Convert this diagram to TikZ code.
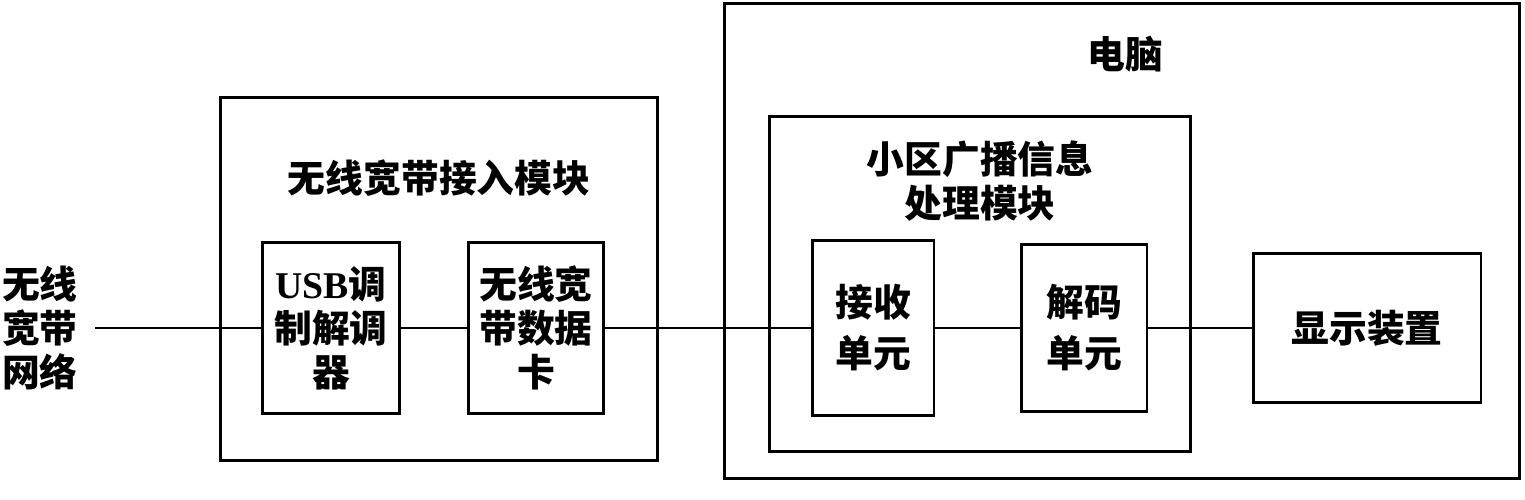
\documentclass[tikz,border=0pt]{standalone}
\usepackage{fontspec}
\setmainfont{Liberation Serif}
\newfontfamily\cjk{Noto Sans CJK SC}
\usetikzlibrary{positioning}

\begin{document}
\begin{tikzpicture}[x=0.02cm, y=-0.02cm, line width=1.7pt,
	blk/.style={draw, inner sep=0pt, align=center, font={\cjk\bfseries\fontsize{21.5}{25}\selectfont}},
	txt/.style={inner sep=0pt, align=center, font={\cjk\bfseries\fontsize{21.5}{25}\selectfont}}]
			\useasboundingbox (0,0) rectangle (1525,500);
			\node[txt] (net) at (40,328) {无线\\宽带\\网络};
			\coordinate (in) at (95,328);
			% wireless access module
			\node[blk, minimum width=8.76cm, minimum height=7.28cm] (acc) at (439,279) {};
			\node[txt] (acclbl) at (439,178) {无线宽带接入模块};
			\node[blk, minimum width=2.74cm, minimum height=3.44cm] (usb) at (331,328) {{\rmfamily USB}调\\制解调\\器};
			\node[blk, minimum width=2.72cm, minimum height=3.44cm] (card) at (536,328) {无线宽\\带数据\\卡};
			% computer
			\node[blk, minimum width=15.92cm, minimum height=9.52cm] (pc) at (1122,241) {};
			\node[txt] (pclbl) at (1125,54) {电脑};
			\node[blk, minimum width=8.42cm, minimum height=6.7cm] (cbs) at (980,284) {};
			\node[txt] (cbslbl) at (980,181) {小区广播信息\\处理模块};
			\node[blk, minimum width=2.44cm, minimum height=3.52cm] (recv) at (873,328) {接收\\[4pt]单元};
			\node[blk, minimum width=2.52cm, minimum height=3.34cm] (dec) at (1084,328) {解码\\[4pt]单元};
			\node[blk, minimum width=4.56cm, minimum height=3cm] (disp) at (1367,328) {显示装置};
			\draw (in) -- (usb) -- (card) -- (recv) -- (dec) -- (disp);
		\end{tikzpicture}
\end{document}
